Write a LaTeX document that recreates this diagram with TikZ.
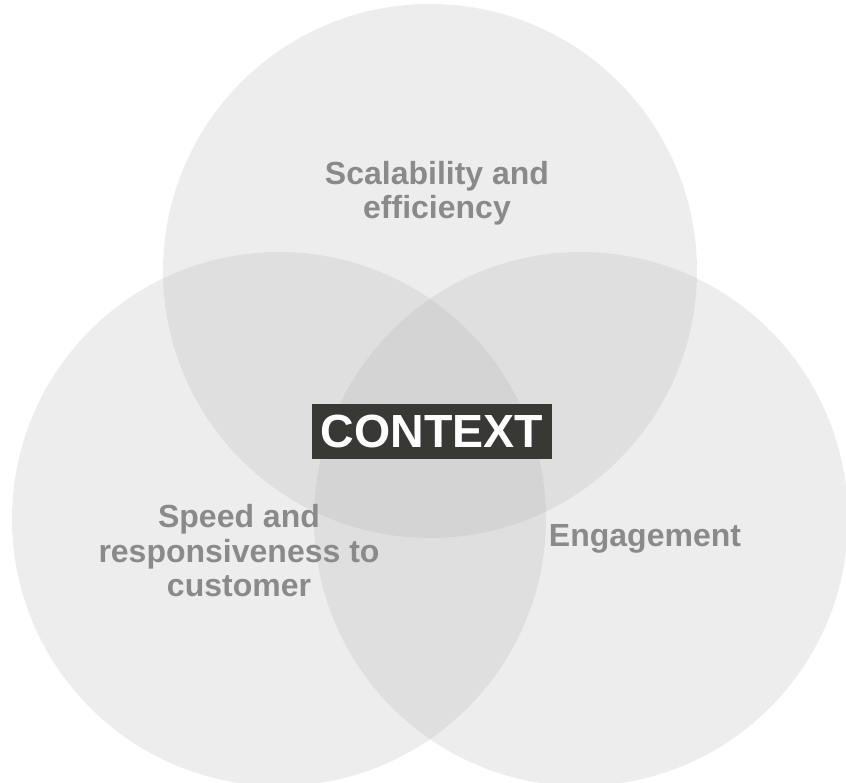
\documentclass[tikz,border=0pt]{standalone}
\usepackage{fontspec}
\setmainfont{Liberation Sans}
\usepackage{tikz}
\usetikzlibrary{positioning}

\definecolor{ringgray}{RGB}{174,174,174}
\definecolor{labelgray}{RGB}{138,138,138}
\definecolor{tagdark}{RGB}{56,56,53}

\begin{document}
\begin{tikzpicture}[
  x=1pt, y=-1pt, % 1pt per pixel, y grows downward
  venn/.style={circle, fill=ringgray, fill opacity=0.22, draw=none,
               minimum size=534pt, inner sep=0pt},
  vlabel/.style={text=labelgray, font=\bfseries\fontsize{32}{34.5}\selectfont,
                 align=center, inner sep=0pt},
  ctag/.style={fill=tagdark, text=white, font=\bfseries\fontsize{46.5}{50}\selectfont,
               minimum width=240pt, minimum height=55pt, inner sep=0pt}
]
  \useasboundingbox (0,0) rectangle (846,783);

  % three overlapping circles
  \node[venn] (scale) at (430,271) {};
  \node[venn] (speed) at (279,519) {};
  \node[venn] (engage) at (581,519) {};

  % circle captions
  \node[vlabel] (scaletxt) at (437,193) {Scalability and\\efficiency};
  \node[vlabel] (speedtxt) at (239,551) {Speed and\\responsiveness to\\customer};
  \node[vlabel] (engagetxt) at (645,539) {Engagement};

  % centre tag
  \node[ctag] (context) at (432,431.5) {CONTEXT};
\end{tikzpicture}
\end{document}
